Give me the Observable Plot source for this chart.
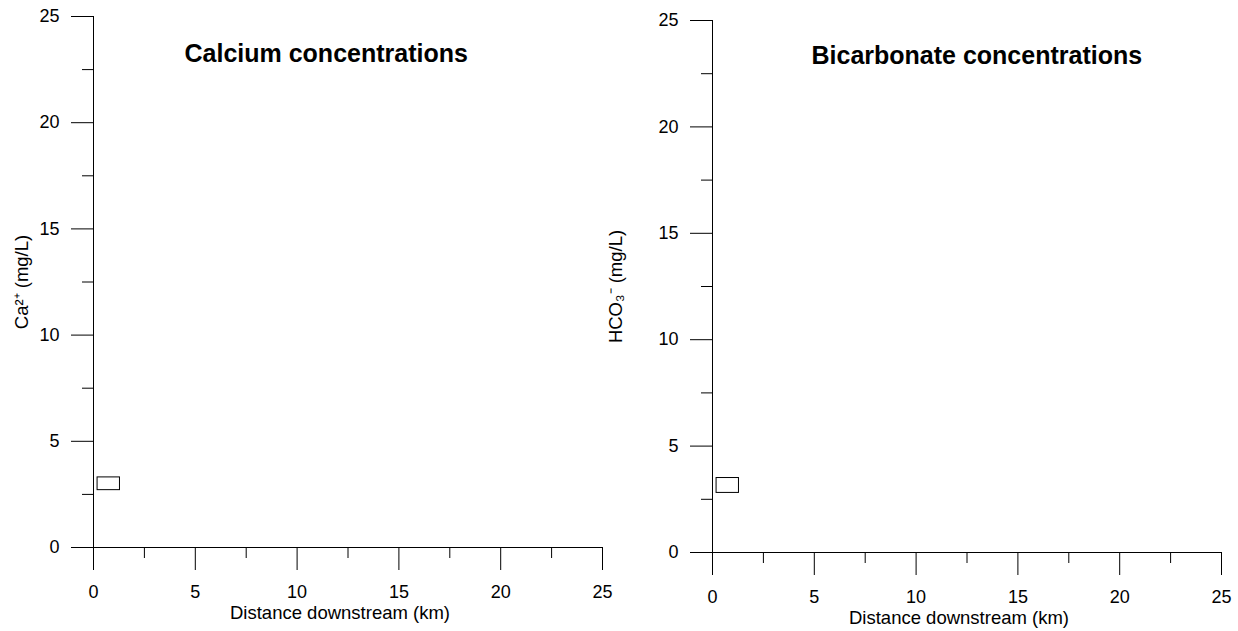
<!DOCTYPE html>
<html>
<head>
<meta charset="utf-8">
<script src="https://cdn.jsdelivr.net/npm/d3@7"></script>
<script src="https://cdn.jsdelivr.net/npm/@observablehq/plot@0.6"></script>
<style>
  html, body { margin: 0; padding: 0; background: #fff; }
  #wrap { display: flex; width: 1238px; height: 631px; }
</style>
</head>
<body>
<div id="wrap"></div>
<script>
// ---- data ----
const xMajorTicks = [0, 5, 10, 15, 20, 25];
const xMinorTicks = [2.5, 7.5, 12.5, 17.5, 22.5];
const yMajorTicks = [0, 5, 10, 15, 20, 25];
const yMinorTicks = [2.5, 7.5, 12.5, 17.5, 22.5];
const xDomain = [0, 25];
const yDomain = [0, 25];
const panelTitles = ["Calcium concentrations", "Bicarbonate concentrations"];
const yLabels = ["Ca²⁺ (mg/L)", "HCO₃⁻ (mg/L)"];
const xLabel = "Distance downstream (km)";
// small box drawn near the origin of each panel (x1, x2, y1, y2)
const calciumBox = [{x1: 0.2, x2: 1.3, y1: 2.7, y2: 3.3}];
const bicarbonateBox = [{x1: 0.2, x2: 1.3, y1: 2.8, y2: 3.5}];

const font = "'Liberation Sans', Arial, Helvetica, sans-serif";

function panel({title, ylabel, box, marginTop, marginBottom, titleDx, titleDy, ylabelDx}) {
  return Plot.plot({
    width: 619,
    height: 631,
    marginLeft: 93,
    marginRight: 17,
    marginTop,
    marginBottom,
    style: {fontFamily: font, fontSize: "18px", background: "#fff", color: "#000", overflow: "visible"},
    x: {domain: xDomain},
    y: {domain: yDomain},
    marks: [
      Plot.axisY(yMajorTicks, {tickSize: 22, tickPadding: 12, label: null, stroke: "#000", fontSize: 18}),
      Plot.axisY(yMinorTicks, {tickSize: 11, fill: "none", label: null, stroke: "#000"}),
      Plot.axisX(xMajorTicks, {tickSize: 23, tickPadding: 15, label: null, stroke: "#000", fontSize: 18}),
      Plot.axisX(xMinorTicks, {tickSize: 11, fill: "none", label: null, stroke: "#000"}),
      Plot.ruleX([0], {stroke: "#000"}),
      Plot.ruleY([0], {stroke: "#000"}),
      Plot.rect(box, {x1: "x1", x2: "x2", y1: "y1", y2: "y2", fill: "none", stroke: "#000", strokeWidth: 1}),
      Plot.text([title], {frameAnchor: "top-left", textAnchor: "start", lineAnchor: "middle",
        dx: titleDx, dy: titleDy, fontSize: 25, fontWeight: "bold", fill: "#000"}),
      Plot.text([xLabel], {frameAnchor: "bottom", textAnchor: "middle", lineAnchor: "middle", dx: -8, dy: 66, fontSize: 18.5, fill: "#000"}),
      Plot.text([ylabel], {frameAnchor: "left", textAnchor: "middle", lineAnchor: "middle", rotate: -90, dx: ylabelDx, fontSize: 18.5, fill: "#000"})
    ]
  });
}

const wrap = document.getElementById("wrap");
wrap.append(panel({title: panelTitles[0], ylabel: yLabels[0], box: calciumBox,
  marginTop: 16, marginBottom: 84, titleDx: 91, titleDy: 37.5, ylabelDx: -71}));
wrap.append(panel({title: panelTitles[1], ylabel: yLabels[1], box: bicarbonateBox,
  marginTop: 20, marginBottom: 79, titleDx: 99, titleDy: 35.5, ylabelDx: -96}));
</script>
</body>
</html>
